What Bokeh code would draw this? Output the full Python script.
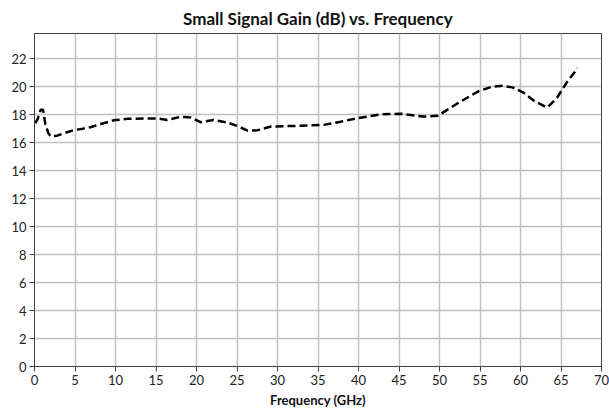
from bokeh.plotting import figure
from bokeh.models import Range1d, FixedTicker
from bokeh.embed import file_html
from bokeh.resources import INLINE

freq_ghz = [0.1, 0.4, 0.75, 1.05, 1.35, 1.7, 2.0, 2.8, 3.8, 4.9, 6.0, 6.9, 8.3, 9.8,
            11.5, 13.5, 15.2, 16.4, 18.0, 19.3, 20.5, 22.1, 23.8, 25.0, 26.3, 27.5,
            29.2, 32.5, 35.7, 37.8, 39.9, 42.8, 45.2, 47.9, 49.8, 52.2, 54.9, 56.5,
            57.8, 59.0, 60.3, 61.7, 63.3, 64.5, 65.7, 66.7, 67.0]
gain_db = [17.4, 17.7, 18.35, 18.35, 17.3, 16.7, 16.45, 16.5, 16.7, 16.9, 17.0, 17.1,
           17.35, 17.6, 17.7, 17.72, 17.72, 17.62, 17.84, 17.8, 17.46, 17.62, 17.44,
           17.2, 16.86, 16.88, 17.15, 17.2, 17.27, 17.5, 17.74, 18.03, 18.06, 17.86,
           17.92, 18.8, 19.7, 20.0, 20.06, 19.95, 19.6, 18.98, 18.5, 19.2, 20.3, 21.05,
           21.35]

x_ticks = list(range(0, 71, 5))
y_ticks = list(range(0, 23, 2))

FONT = "Lato"

p = figure(width=609, height=414, output_backend="svg", toolbar_location=None,
           x_range=Range1d(0, 70), y_range=Range1d(0, 23.8),
           title="Small Signal Gain (dB) vs. Frequency",
           min_border_left=34, min_border_right=8, min_border_top=32,
           min_border_bottom=48)

p.title.align = "center"
p.title.text_font = FONT
p.title.text_font_size = "17px"
p.title.text_font_style = "bold"
p.title.text_color = "#111111"

p.outline_line_color = "#404040"
p.outline_line_width = 1
p.background_fill_color = "white"
p.border_fill_color = "white"

for ax in (p.xaxis, p.yaxis):
    ax.axis_line_color = "#404040"
    ax.major_tick_line_color = "#404040"
    ax.minor_tick_line_color = None
    ax.major_tick_in = 0
    ax.major_tick_out = 5
    ax.major_label_text_font = FONT
    ax.major_label_text_font_size = "13px"
    ax.major_label_text_color = "#222222"

p.xaxis.ticker = FixedTicker(ticks=x_ticks)
p.yaxis.ticker = FixedTicker(ticks=y_ticks)
p.xaxis.major_label_standoff = 3
p.yaxis.major_label_standoff = 3

p.xaxis.axis_label = "Frequency (GHz)"
p.xaxis.axis_label_text_font = FONT
p.xaxis.axis_label_text_font_size = "13px"
p.xaxis.axis_label_text_font_style = "bold"
p.xaxis.axis_label_text_color = "#111111"
p.xaxis.axis_label_standoff = 4

p.xgrid.ticker = FixedTicker(ticks=x_ticks)
p.ygrid.ticker = FixedTicker(ticks=y_ticks)
p.grid.grid_line_color = "#c0c0c0"
p.grid.grid_line_width = 1.5

p.line(freq_ghz, gain_db, line_color="black", line_width=2.5, line_dash="8 4")

open("out.html", "w").write(file_html(p, INLINE))
